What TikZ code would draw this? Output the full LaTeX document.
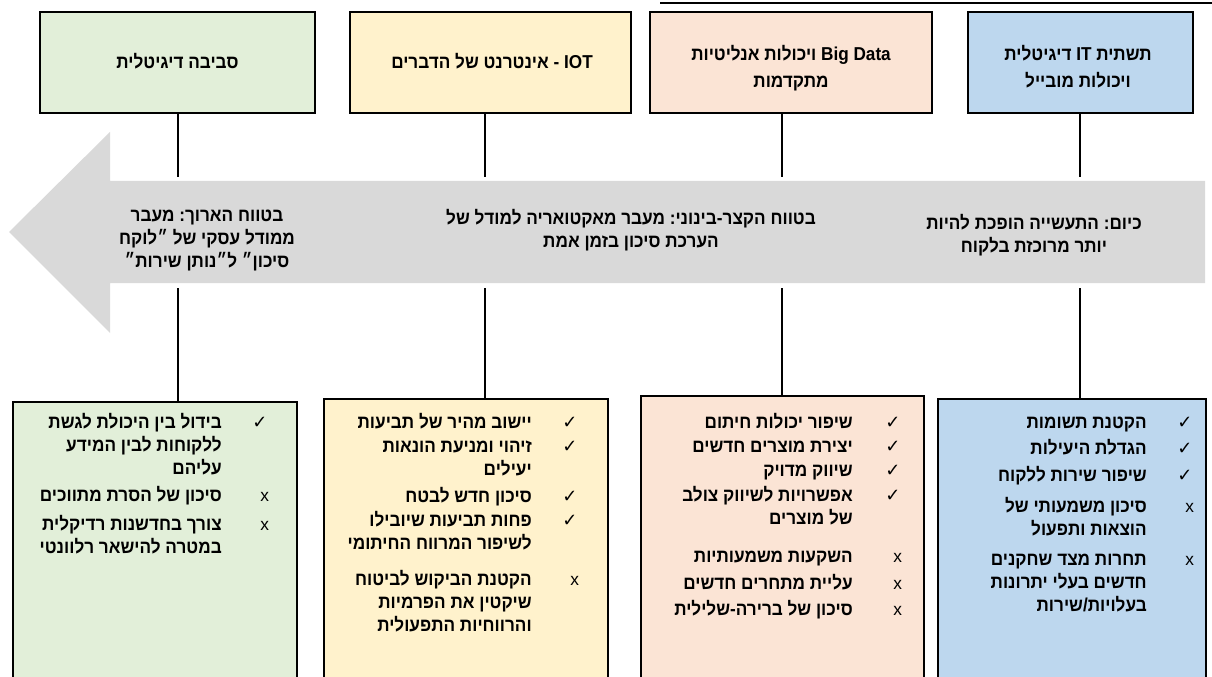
\documentclass[tikz,border=0pt]{standalone}
\usepackage{fontspec}
\newfontfamily\hebbf[Script=Hebrew, FakeStretch=0.92]{Liberation Sans Bold}
\newfontfamily\latfont{Liberation Sans}
\newfontfamily\symfont{DejaVu Sans}
\TeXXeTstate=1
\frenchspacing

\definecolor{envgreen}{RGB}{226,239,217}
\definecolor{iotyellow}{RGB}{255,242,204}
\definecolor{datapeach}{RGB}{251,228,213}
\definecolor{itblue}{RGB}{189,215,238}
\definecolor{bandgray}{RGB}{217,217,217}

% fonts for the three kinds of text
\newcommand{\txtfont}{\hebbf\fontsize{14}{17.25}\selectfont}
\newcommand{\headfont}{\hebbf\fontsize{14}{20}\selectfont}
\newcommand{\bandfont}{\hebbf\fontsize{14}{17.25}\selectfont}

% one right-to-left line
\newcommand{\heb}[1]{\strut\beginR #1\endR}
% pro / con marks
\newcommand{\good}{{\symfont\fontsize{13.5}{17.25}\selectfont\strut ✓}}
\newcommand{\bad}{{\latfont\fontsize{13}{17.25}\selectfont\strut\kern6pt x}}

\begin{document}
\begin{tikzpicture}[x=0.75pt, y=-0.75pt,
    head/.style={draw, line width=1.3pt, minimum height=75.75pt, inner sep=0pt},
    headtext/.style={align=center, font=\headfont, inner sep=0pt},
    pane/.style={draw, line width=1.3pt, anchor=north west, minimum height=230pt, inner sep=0pt},
    bandtext/.style={align=center, font=\bandfont, inner sep=0pt},
    itm/.style={anchor=north east, align=right, font=\txtfont, inner sep=0pt},
    mk/.style={anchor=north west, inner sep=0pt},
    stem/.style={line width=2pt}
]
\useasboundingbox (0,0) rectangle (1212,677);
\fill[white] (0,0) rectangle (1212,677);
\clip (0,0) rectangle (1212,677);

\draw[line width=1.2pt] (660,3) -- (1212,3);

% timeline arrow
\fill[bandgray] (1205,181) -- (110,181) -- (110,132) -- (9,232)
    -- (110,333) -- (110,283) -- (1205,283) -- cycle;

% technology boxes
\node[head, fill=envgreen, minimum width=206.25pt] (envtop) at (177.5,62.5) {};
\node[head, fill=iotyellow, minimum width=210.75pt] (iottop) at (490.5,62.5) {};
\node[head, fill=datapeach, minimum width=211.5pt] (datatop) at (791,62.5) {};
\node[head, fill=itblue, minimum width=168.75pt] (ittop) at (1080.5,62.5) {};

\node[headtext] (envlbl) at (177.5,63) {\heb{סביבה דיגיטלית}};
\node[headtext] (iotlbl) at (492,63) {\heb{IOT - אינטרנט של הדברים}};
\node[headtext] (datalbl) at (791,68.5)
    {\heb{\beginL Big Data\endL{} ויכולות אנליטיות}\\\heb{מתקדמות}};
\node[headtext] (itlbl) at (1078,68.5)
    {\heb{תשתית IT דיגיטלית}\\\heb{ויכולות מובייל}};

% texts on the arrow
\node[bandtext] (longterm) at (207,240)
    {\heb{בטווח הארוך: מעבר}\\\heb{ממודל עסקי של ״לוקח}\\\heb{סיכון״ ל״נותן שירות״}};
\node[bandtext] (midterm) at (631,231)
    {\heb{בטווח הקצר-בינוני: מעבר מאקטואריה למודל של}\\\heb{הערכת סיכון בזמן אמת}};
\node[bandtext] (today) at (1034,236.5)
    {\heb{כיום: התעשייה הופכת להיות}\\\heb{יותר מרוכזת בלקוח}};

% pros and cons boxes
\node[pane, fill=envgreen, minimum width=213pt] (envbox) at (12,401) {};
\node[pane, fill=iotyellow, minimum width=213pt] (iotbox) at (323,398) {};
\node[pane, fill=datapeach, minimum width=212.25pt] (databox) at (640,395) {};
\node[pane, fill=itblue, minimum width=201pt] (itbox) at (937,398) {};

% stems through the arrow
\coordinate (envup) at (178,177);  \coordinate (envdn) at (178,288);
\coordinate (iotup) at (485,177);  \coordinate (iotdn) at (485,288);
\coordinate (dataup) at (782,177); \coordinate (datadn) at (782,288);
\coordinate (itup) at (1080,177);  \coordinate (itdn) at (1080,288);

\draw[stem] (envup |- envtop.south) -- (envup);
\draw[stem] (envdn) -- (envdn |- envbox.north);
\draw[stem] (iotup |- iottop.south) -- (iotup);
\draw[stem] (iotdn) -- (iotdn |- iotbox.north);
\draw[stem] (dataup |- datatop.south) -- (dataup);
\draw[stem] (datadn) -- (datadn |- databox.north);
\draw[stem] (itup |- ittop.south) -- (itup);
\draw[stem] (itdn) -- (itdn |- itbox.north);

% items
\foreach \yy/\mk/\txt [count=\i] in {
    423/\good/{\heb{בידול בין היכולת לגשת}\\\heb{ללקוחות לבין המידע}\\\heb{עליהם}},
    496/\bad/{\heb{סיכון של הסרת מתווכים}},
    525/\bad/{\heb{צורך בחדשנות רדיקלית}\\\heb{במטרה להישאר רלוונטי}}}{
  \node[itm] (envi\i) at (222,\yy-10.8) {\txt};
  \node[mk] (envm\i) at (252,\yy-10.8) {\mk};
}

\foreach \yy/\mk/\txt [count=\i] in {
    423/\good/{\heb{יישוב מהיר של תביעות}},
    447/\good/{\heb{זיהוי ומניעת הונאות}\\\heb{יעילים}},
    497/\good/{\heb{סיכון חדש לבטח}},
    521/\good/{\heb{פחות תביעות שיובילו}\\\heb{לשיפור המרווח החיתומי}},
    580/\bad/{\heb{הקטנת הביקוש לביטוח}\\\heb{שיקטין את הפרמיות}\\\heb{והרווחיות התפעולית}}}{
  \node[itm] (ioti\i) at (532,\yy-10.8) {\txt};
  \node[mk] (iotm\i) at (562,\yy-10.8) {\mk};
}

\foreach \yy/\mk/\txt [count=\i] in {
    423/\good/{\heb{שיפור יכולות חיתום}},
    447/\good/{\heb{יצירת מוצרים חדשים}},
    471/\good/{\heb{שיווק מדויק}},
    496/\good/{\heb{אפשרויות לשיווק צולב}\\\heb{של מוצרים}},
    557/\bad/{\heb{השקעות משמעותיות}},
    584/\bad/{\heb{עליית מתחרים חדשים}},
    610/\bad/{\heb{סיכון של ברירה-שלילית}}}{
  \node[itm] (datai\i) at (853,\yy-10.8) {\txt};
  \node[mk] (datam\i) at (885,\yy-10.8) {\mk};
}

\foreach \yy/\mk/\txt [count=\i] in {
    423/\good/{\heb{הקטנת תשומות}},
    449/\good/{\heb{הגדלת היעילות}},
    476/\good/{\heb{שיפור שירות ללקוח}},
    507/\bad/{\heb{סיכון משמעותי של}\\\heb{הוצאות ותפעול}},
    560/\bad/{\heb{תחרות מצד שחקנים}\\\heb{חדשים בעלי יתרונות}\\\heb{בעלויות/שירות}}}{
  \node[itm] (iti\i) at (1147,\yy-10.8) {\txt};
  \node[mk] (itm\i) at (1177,\yy-10.8) {\mk};
}

\end{tikzpicture}
\end{document}
